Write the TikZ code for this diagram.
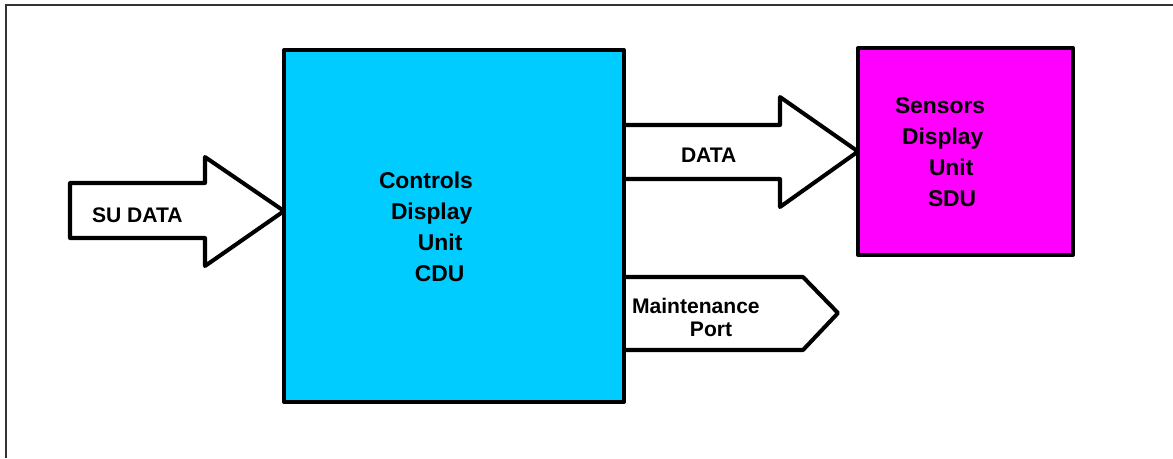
\documentclass[tikz,border=0pt]{standalone}
\usepackage{fontspec}
\setmainfont{Liberation Sans}
\usepackage{tikz}
\definecolor{cdublue}{HTML}{00CCFF}
\definecolor{sdumagenta}{HTML}{FF00FF}
\tikzset{
    every node/.style={inner sep=0pt, outer sep=0pt}
}
\tikzset{
    unitbox/.style={rectangle, draw, line width=2.3pt, line join=round},
    blockarrow/.style={draw, fill=white, line width=2.3pt, line join=round},
    frame/.style={draw=black!80, line width=0.7pt}
}
\tikzset{
    boxtext/.style={anchor=base west, align=left,
        font=\fontsize{13}{17.6}\selectfont\bfseries},
    arrowtext/.style={anchor=base west, align=left,
        font=\fontsize{12}{13}\selectfont\bfseries}
}
\pgfdeclarelayer{background}
\pgfsetlayers{background,main}

\begin{document}
\begin{tikzpicture}[x=0.02cm, y=-0.02cm]
  \useasboundingbox (0,0) rectangle (1173,458);
  \draw [frame] (6,458) -- (6,5) -- (1173,5);

  \node (cdu) [unitbox, fill=cdublue, minimum width=6.8cm, minimum height=7.04cm] at (454,226) {};
  \node (sdu) [unitbox, fill=sdumagenta, minimum width=4.3cm, minimum height=4.14cm] at (965.5,151.5) {};

  % base anchor sits on the last line
  \node (cdutext) [boxtext] at (379,281) {Controls\\\hspace*{0.24cm}Display\\\hspace*{0.78cm}Unit\\\hspace*{0.72cm}CDU};
  \node (sdutext) [boxtext] at (895,206) {Sensors\\\hspace*{0.14cm}Display\\\hspace*{0.68cm}Unit\\\hspace*{0.66cm}SDU};

  \begin{pgfonlayer}{background}
    \draw [blockarrow] (70,183) -- (205,183) -- (205,157) -- (cdu.west |- 0,211)
      -- (205,266) -- (205,238) -- (70,238) -- cycle;
    \draw [blockarrow] (cdu.east |- 0,125) -- (780,125) -- (780,97) -- (sdu.west)
      -- (780,207) -- (780,179) -- (cdu.east |- 0,179) -- cycle;
    \draw [blockarrow] (cdu.east |- 0,277) -- (803,277) -- (838,313)
      -- (803,350) -- (cdu.east |- 0,350) -- cycle;
  \end{pgfonlayer}

  \node (sulabel) [arrowtext] at (92,222) {SU DATA};
  \node (datalabel) [arrowtext] at (681,162) {DATA};
  \node (portlabel) [arrowtext] at (632,336) {Maintenance\\\hspace*{1.16cm}Port};
\end{tikzpicture}
\end{document}
